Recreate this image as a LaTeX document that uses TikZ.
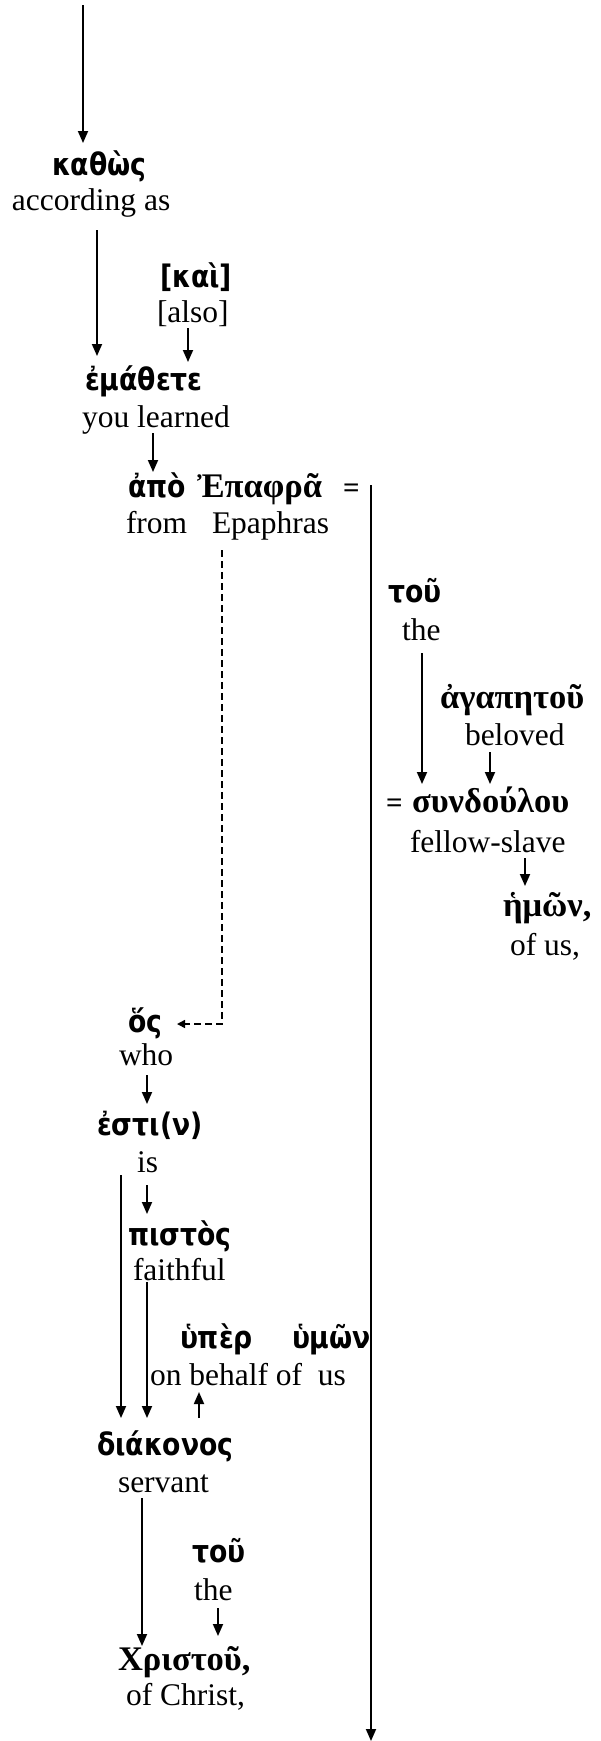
\documentclass[tikz,border=0pt]{standalone}
\usepackage{fontspec}
\setmainfont{Liberation Serif}
\newfontfamily\gsans{DejaVu Sans}[FakeStretch=0.86]
\newfontfamily\gserif{Liberation Serif}
\usetikzlibrary{arrows.meta}
\begin{document}
\begin{tikzpicture}[x=1pt,y=-1pt,
  lbl/.style={inner sep=0pt,outer sep=0pt,anchor=base west},
  en/.style={lbl,font=\fontsize{31.5}{36}\selectfont},
  gs/.style={lbl,font=\gsans\bfseries\fontsize{31}{34}\selectfont},
  gr/.style={lbl,font=\gserif\bfseries\fontsize{34.5}{38}\selectfont},
  eqs/.style={lbl,font=\gserif\bfseries\fontsize{29}{32}\selectfont},
  arr/.style={line width=1.8pt,-{Triangle[length=12pt,width=10pt]}},
  darr/.style={line width=1.5pt,dash pattern=on 7pt off 4pt,-{Triangle[length=8pt,width=8pt]}}]
\useasboundingbox (0,0) rectangle (600,1741);
% nodes
\node[gs] (kathos) at (52,175) {καθὼς};
\node[en] (kathosE) at (12,210) {according as};
\node[gs] (kai) at (160,287) {[καὶ]};
\node[en] (kaiE) at (157,322) {[also]};
\node[gs] (emathete) at (85,390) {ἐμάθετε};
\node[en] (emathE) at (82,427) {you learned};
\node[gs] (apo) at (128,497) {ἀπὸ};
\node[gr] (epaphra) at (197,497) {Ἐπαφρᾶ};
\node[eqs] (eq1) at (343,497) {=};
\node[en] (fromE) at (126,533) {from};
\node[en] (epaphrasE) at (212,533) {Epaphras};
\node[gs] (tou1) at (388,602) {τοῦ};
\node[en] (the1) at (402,640) {the};
\node[gr] (agapetou) at (440,708) {ἀγαπητοῦ};
\node[en] (beloved) at (465,745) {beloved};
\node[eqs] (eq2) at (386,812) {=};
\node[gr] (syndoulou) at (412,812) {συνδούλου};
\node[en] (fellow) at (410,852) {fellow-slave};
\node[gr] (hemon) at (503,916) {ἡμῶν,};
\node[en] (ofus) at (510,955) {of us,};
\node[gs] (hos) at (128,1032) {ὅς};
\node[en] (who) at (119,1065) {who};
\node[gs] (esti) at (97,1135) {ἐστι(ν)};
\node[en] (is) at (137,1172) {is};
\node[gs] (pistos) at (128,1245) {πιστὸς};
\node[en] (faithful) at (133,1280) {faithful};
\node[gs] (hyper) at (180,1348) {ὑπὲρ};
\node[gs] (hymon) at (292,1348) {ὑμῶν};
\node[en] (behalf) at (150,1385) {on behalf of\ \ us};
\node[gs] (diakonos) at (97,1455) {διάκονος};
\node[en] (servant) at (118,1492) {servant};
\node[gs] (tou2) at (192,1562) {τοῦ};
\node[en] (the2) at (194,1600) {the};
\node[gr] (christou) at (118,1670) {Χριστοῦ,};
\node[en] (christE) at (126,1705) {of Christ,};
% connector end points
\coordinate (a1) at (83,5);     \coordinate (b1) at (83,143);
\coordinate (a2) at (97,230);   \coordinate (b2) at (97,356);
\coordinate (a3) at (188,328);  \coordinate (b3) at (188,362);
\coordinate (a4) at (153,433);  \coordinate (b4) at (153,472);
\coordinate (a5) at (371,485);  \coordinate (b5) at (371,1741);
\coordinate (a6) at (422,653);  \coordinate (b6) at (422,784);
\coordinate (a7) at (490,752);  \coordinate (b7) at (490,784);
\coordinate (a8) at (525,858);  \coordinate (b8) at (525,886);
\coordinate (a9) at (222,550);  \coordinate (k9) at (222,1024); \coordinate (b9) at (177,1024);
\coordinate (a10) at (147,1075); \coordinate (b10) at (147,1104);
\coordinate (a11) at (121,1175); \coordinate (b11) at (121,1418);
\coordinate (a12) at (147,1185); \coordinate (b12) at (147,1214);
\coordinate (a13) at (147,1282); \coordinate (b13) at (147,1418);
\coordinate (a14) at (199,1418); \coordinate (b14) at (199,1392);
\coordinate (a15) at (142,1498); \coordinate (b15) at (142,1646);
\coordinate (a16) at (218,1608); \coordinate (b16) at (218,1636);
% connectors
\draw[arr] (a1) -- (b1);
\draw[arr] (a2) -- (b2);
\draw[arr] (a3) -- (b3);
\draw[arr] (a4) -- (b4);
\draw[arr] (a5) -- (b5);
\draw[arr] (a6) -- (b6);
\draw[arr] (a7) -- (b7);
\draw[arr] (a8) -- (b8);
\draw[darr] (a9) -- (k9) -- (b9);
\draw[arr] (a10) -- (b10);
\draw[arr] (a11) -- (b11);
\draw[arr] (a12) -- (b12);
\draw[arr] (a13) -- (b13);
\draw[arr] (a14) -- (b14);
\draw[arr] (a15) -- (b15);
\draw[arr] (a16) -- (b16);
\end{tikzpicture}
\end{document}
